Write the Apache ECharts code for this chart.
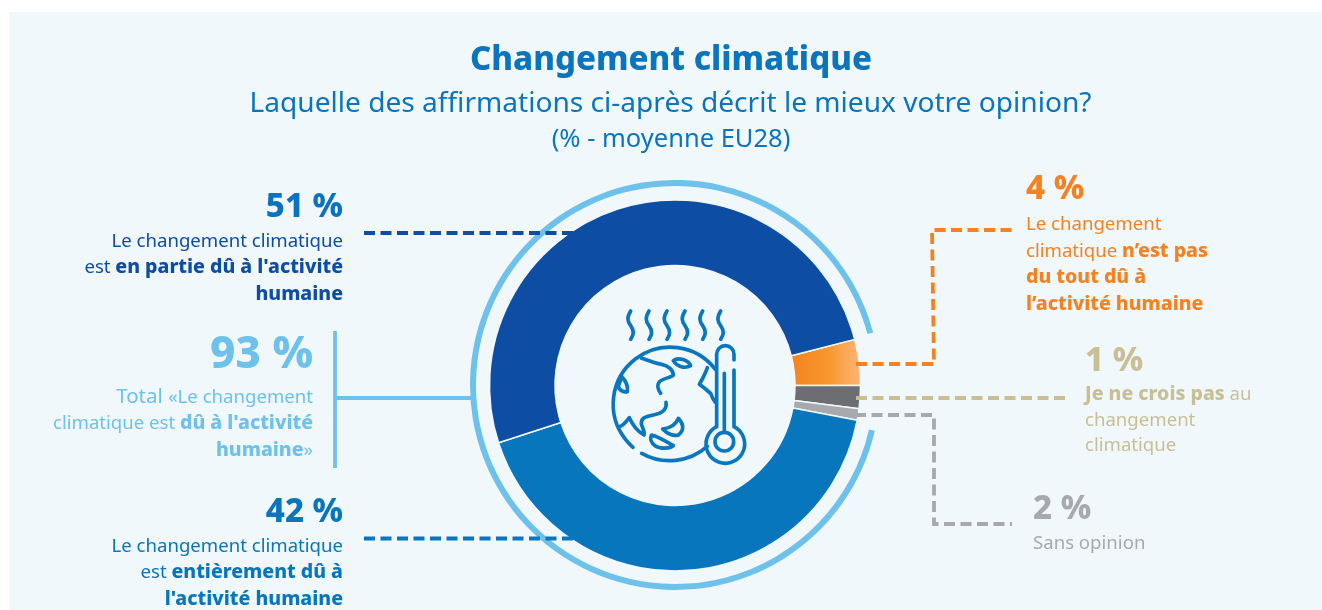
<!DOCTYPE html>
<html>
<head>
<meta charset="utf-8">
<title>Changement climatique</title>
<style>
  html, body { margin: 0; padding: 0; background: #fff; }
  #main { width: 1322px; height: 610px; }
</style>
<script src="https://cdn.jsdelivr.net/npm/echarts@6/dist/echarts.min.js"></script>
</head>
<body>
<div id="main"></div>
<script>
// données
var categories = ['4 %', '1 %', '2 %', '42 %', '51 %'];
var sliceValues = [4, 2, 1, 42, 51];   // largeur réelle des parts sur l'image
var sliceColors = ['#f58220', '#6d6e71', '#a7a9ac', '#0776bd', '#0e4da4'];
var ringValues = [92.3, 7.7];          // arc clair autour de l'anneau

var titleText = 'Changement climatique';
var subText = 'Laquelle des affirmations ci-après décrit le mieux votre opinion?';
var noteText = '(% - moyenne EU28)';

var fontName = '"Noto Sans", sans-serif';
var chart = echarts.init(document.getElementById('main'));

// bloc de texte : grand chiffre + lignes riches
function labelBlock(x, y, align, num, numColor, numSize, lines, color, boldColor, lineH, bodyTop) {
  return [{
    type: 'text', x: x, y: y, z: 20, silent: true,
    style: {
      text: num, align: align, verticalAlign: 'middle',
      fontFamily: fontName, fontWeight: 800, fontSize: numSize, fill: numColor
    }
  }, {
    type: 'text', x: x, y: bodyTop, z: 20, silent: true,
    style: {
      text: lines.join('\n'), align: align, verticalAlign: 'top',
      fontFamily: fontName,
      rich: {
        n: { fontFamily: fontName, fontSize: 18.6, fill: color, lineHeight: lineH },
        t: { fontFamily: fontName, fontSize: 20.5, fill: color, lineHeight: lineH },
        b: { fontFamily: fontName, fontSize: 19.5, fontWeight: 800, fill: boldColor, lineHeight: lineH }
      }
    }
  }];
}

// pointillés de renvoi
function leader(points, color) {
  return {
    type: 'polyline', z: 15, silent: true,
    shape: { points: points },
    style: { fill: null, stroke: color, lineWidth: 3.8, lineDash: [11, 5.5] }
  };
}

function solid(points, color) {
  return {
    type: 'polyline', z: 15, silent: true,
    shape: { points: points },
    style: { fill: null, stroke: color, lineWidth: 3.8 }
  };
}

// pictogramme planète + thermomètre
var waveX = [122, 177, 231, 285, 338, 392];
var iconPaths = waveX.map(function (x) {
  return 'M' + x + ' 48 C' + (x - 12) + ' 68,' + (x - 10) + ' 78,' + x + ' 92 C' + (x + 10) + ' 106,' + (x + 10) + ' 120,' + x + ' 133';
}).concat([
  'M376 223 A171 171 0 1 0 129 457',
  'M155 475 A171 171 0 0 0 352 454',
  'M155 190 C175 195,190 205,215 208 C235 212,250 225,250 240 C245 248,215 250,207 262 C200 272,205 285,212 295',
  'M250 197 C265 185,295 195,302 212 C285 222,260 215,250 197Z',
  'M95 245 L85 275 C90 290,105 292,112 290 C115 270,105 255,95 245Z',
  'M228 322 C232 345,215 355,190 360 C165 365,150 370,155 390 C158 400,165 410,162 420 C145 410,130 395,118 368 C105 385,95 395,88 395',
  'M265 370 C280 385,285 405,265 420 C250 425,230 415,218 402 C235 400,255 395,265 370Z',
  'M185 420 C205 425,230 440,250 452 C240 462,210 462,195 452 C185 445,178 432,185 420Z',
  'M352 218 C345 240,335 255,328 268 C345 280,355 290,362 295 C365 305,370 315,376 322',
  'M380 395 L380 178 A26 26 0 0 1 432 178 L432 195',
  'M432 225 L432 395',
  'M403 235 L403 410',
  'M380 395 A58 58 0 1 0 432 395',
  'M431 440 A28 28 0 1 1 375 440 A28 28 0 1 1 431 440Z'
]);
echarts.graphic.registerShape('climateIcon', echarts.graphic.extendPath(iconPaths.join(' '), {}));

var graphics = [{
  type: 'rect', z: -10, silent: true,
  shape: { x: 9, y: 12, width: 1313, height: 598 },
  style: { fill: '#f0f8fc' }
}, {
  type: 'climateIcon', z: 12, silent: true, x: 590, y: 295, scaleX: 1 / 3, scaleY: 1 / 3,
  style: { fill: null, stroke: '#0a76bd', lineWidth: 11, lineCap: 'round', lineJoin: 'round' }
}];

graphics.push(
  leader([[364, 233], [574, 233]], '#0e4da4'),
  leader([[364, 538.5], [590, 538.5]], '#0776bd'),
  leader([[856, 364], [934, 364], [932, 230], [1012, 230]], '#f58220'),
  leader([[856, 398], [1066, 398]], '#c8bf95'),
  leader([[855, 415], [934, 415], [934, 524], [1012, 524]], '#a7a9ac'),
  solid([[335, 331], [335, 468]], '#6ec1ea'),
  solid([[335, 398], [473, 398]], '#6ec1ea')
);

graphics = graphics.concat(
  labelBlock(343, 208, 'right', categories[4], '#0a72c0', 33,
    ['{n|Le changement climatique}', '{n|est }{b|en partie dû à l\'activité}', '{b|humaine}'],
    '#0e4da4', '#0e4da4', 26.5, 228),
  labelBlock(313, 355, 'right', '93 %', '#6ec1ea', 44,
    ['{t|Total }{n|«Le changement}', '{n|climatique est }{b|dû à l\'activité}', '{b|humaine}{n|»}'],
    '#6ec1ea', '#6ec1ea', 26.5, 384),
  labelBlock(343, 513, 'right', categories[3], '#0776bd', 33,
    ['{n|Le changement climatique}', '{n|est }{b|entièrement dû à}', '{b|l\'activité humaine}'],
    '#0776bd', '#0776bd', 26.5, 533),
  labelBlock(1026, 190, 'left', categories[0], '#f58220', 33,
    ['{n|Le changement}', '{n|climatique }{b|n\u2019est pas}', '{b|du tout dû à}', '{b|l\u2019activité humaine}'],
    '#f58220', '#f58220', 26.3, 212),
  labelBlock(1085, 362, 'left', categories[1], '#c8bf95', 33,
    ['{b|Je ne crois pas}{n| au}', '{n|changement}', '{n|climatique}'],
    '#c8bf95', '#c8bf95', 25.5, 382),
  labelBlock(1033, 510, 'left', categories[2], '#a7a9ac', 33,
    ['{n|Sans opinion}'],
    '#a7a9ac', '#a7a9ac', 26, 531)
);

var option = {
  animation: false,
  title: [
    { text: titleText, left: 666, top: 39, textAlign: 'center',
      textStyle: { fontFamily: fontName, fontSize: 33, fontWeight: 800, color: '#0a74bc' } },
    { text: subText, left: 665.5, top: 85, textAlign: 'center',
      textStyle: { fontFamily: fontName, fontSize: 28.1, fontWeight: 'normal', color: '#0a74bc' } },
    { text: noteText, left: 666, top: 122, textAlign: 'center',
      textStyle: { fontFamily: fontName, fontSize: 25.5, fontWeight: 'normal', color: '#0a74bc' } }
  ],
  series: [
    {
      type: 'pie', silent: true, z: 1,
      center: [675, 385], radius: [199, 205],
      startAngle: -12.9, clockwise: true,
      label: { show: false }, labelLine: { show: false },
      data: [
        { value: ringValues[0], itemStyle: { color: '#6ec1ea' } },
        { value: ringValues[1], itemStyle: { color: 'rgba(0,0,0,0)' } }
      ]
    },
    {
      type: 'pie', silent: true, z: 2,
      center: [675, 385.5], radius: [120, 185.5],
      startAngle: 14.4, clockwise: true,
      label: { show: false }, labelLine: { show: false },
      itemStyle: { borderColor: '#f0f8fc', borderWidth: 1.5 },
      data: sliceValues.map(function (v, i) {
        var color = sliceColors[i];
        if (i === 0) {
          color = {
            type: 'linear', x: 0, y: 0, x2: 1, y2: 0,
            colorStops: [{ offset: 0, color: '#f58220' }, { offset: 0.55, color: '#f8982f' }, { offset: 1, color: '#fcb678' }]
          };
        }
        return { value: v, name: categories[i], itemStyle: { color: color } };
      })
    }
  ],
  graphic: { elements: graphics }
};
chart.setOption(option);
</script>
</body>
</html>
